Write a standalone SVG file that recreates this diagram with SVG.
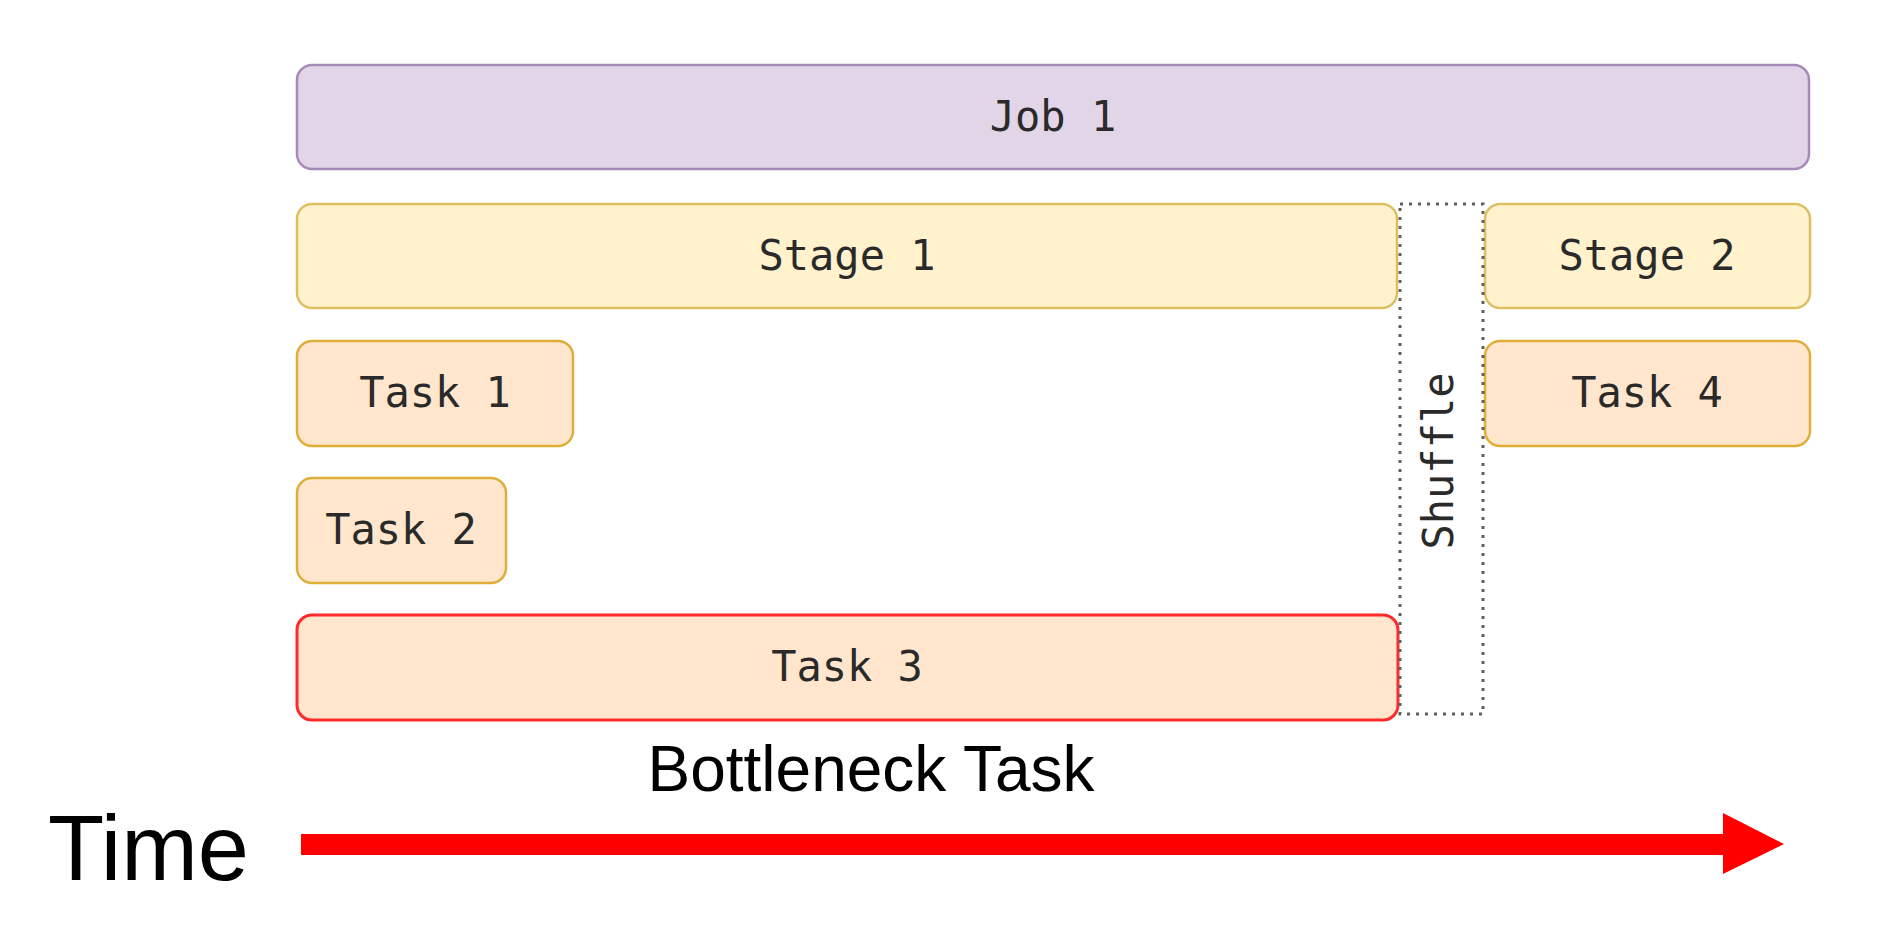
<svg xmlns="http://www.w3.org/2000/svg" width="1894" height="940" viewBox="0 0 1894 940">
  <style>
    .box { stroke-width: 2.5; }
    .job { fill: #e1d5e7; stroke: #a88ab8; }
    .stage { fill: #fff2cc; stroke: #dcc060; }
    .task { fill: #ffe6cc; stroke: #dfae38; }
    .bottleneck { fill: #ffe6cc; stroke: #ff2a2a; stroke-width: 3; }
    .shuffle { fill: none; stroke: #606060; stroke-width: 3; stroke-dasharray: 3 6; }
    .lbl { font-family: "DejaVu Sans Mono", "Liberation Mono", monospace; font-size: 42px; fill: #2a2a2a; text-anchor: middle; }
    .big { font-family: "Liberation Sans", Arial, sans-serif; fill: #000000; }
  </style>
  <rect width="1894" height="940" fill="#ffffff"/>

  <g id="job1">
    <rect class="box job" x="297" y="65" width="1512" height="104" rx="15"/>
    <text class="lbl" x="1053" y="131">Job 1</text>
  </g>
  <g id="stage1">
    <rect class="box stage" x="297" y="204" width="1100" height="104" rx="15"/>
    <text class="lbl" x="847" y="270">Stage 1</text>
  </g>
  <g id="stage2">
    <rect class="box stage" x="1485" y="204" width="325" height="104" rx="15"/>
    <text class="lbl" x="1647" y="270">Stage 2</text>
  </g>
  <g id="task1">
    <rect class="box task" x="297" y="341" width="276" height="105" rx="15"/>
    <text class="lbl" x="435" y="407">Task 1</text>
  </g>
  <g id="task2">
    <rect class="box task" x="297" y="478" width="209" height="105" rx="15"/>
    <text class="lbl" x="401" y="544">Task 2</text>
  </g>
  <g id="task3">
    <rect class="box bottleneck" x="297" y="615" width="1101" height="105" rx="15"/>
    <text class="lbl" x="847" y="681">Task 3</text>
  </g>
  <g id="task4">
    <rect class="box task" x="1485" y="341" width="325" height="105" rx="15"/>
    <text class="lbl" x="1647" y="407">Task 4</text>
  </g>
  <g id="shuffle">
    <rect class="shuffle" x="1400" y="204" width="83" height="510"/>
    <text class="lbl" transform="translate(1453,461) rotate(-90)">Shuffle</text>
  </g>
  <g id="bottleneck-label">
    <text class="big" x="871" y="791" font-size="64" text-anchor="middle">Bottleneck Task</text>
  </g>
  <g id="time-label">
    <text class="big" x="48" y="880" font-size="92">Time</text>
  </g>
  <g id="connectors">
    <polygon points="301,834 1723,834 1723,813 1784,844 1723,874 1723,855 301,855" fill="#ff0000"/>
  </g>
</svg>
